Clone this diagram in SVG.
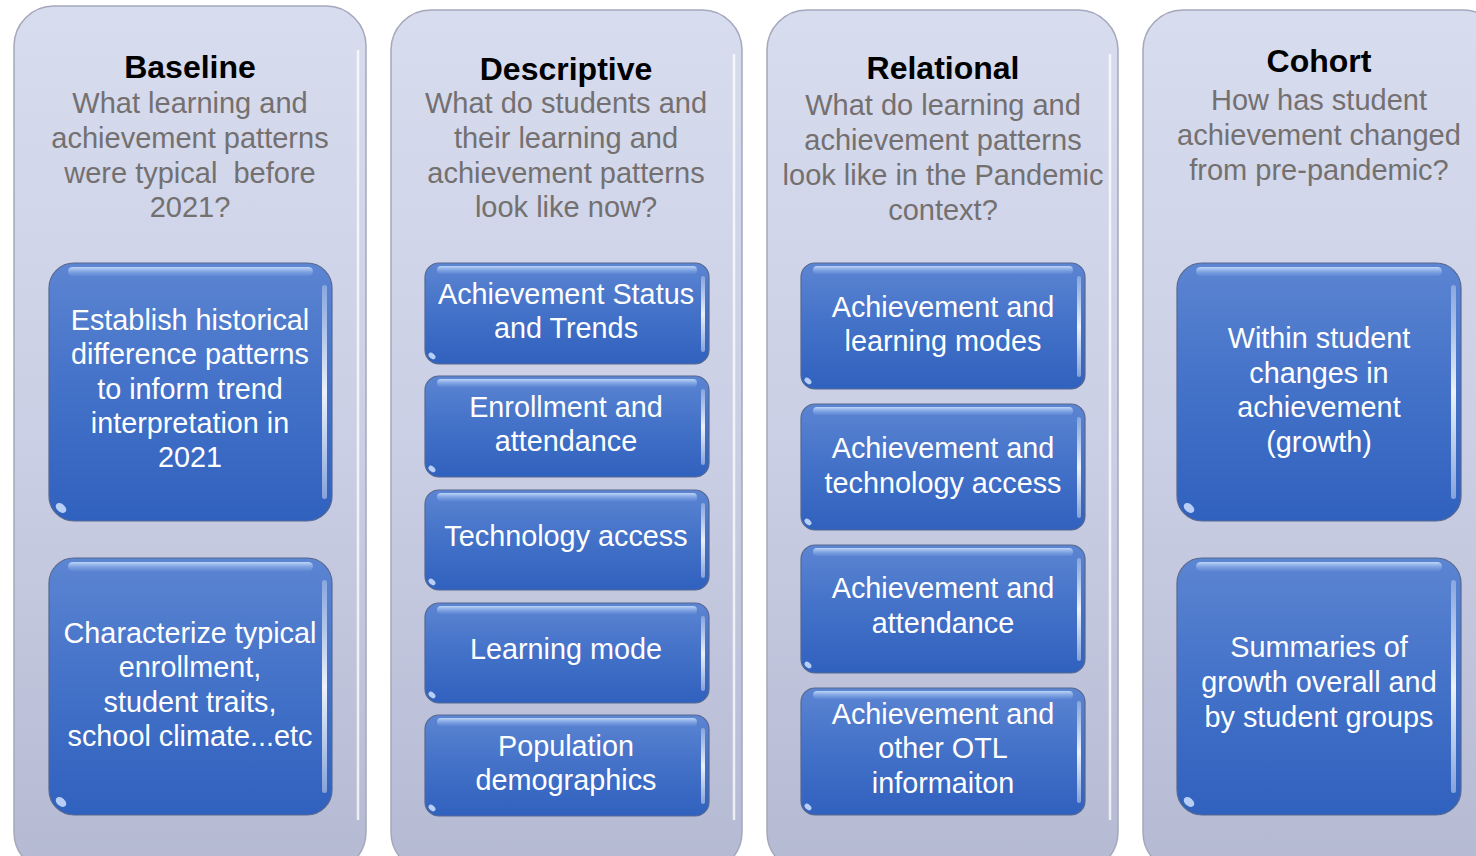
<svg xmlns="http://www.w3.org/2000/svg" width="1476" height="856" viewBox="0 0 1476 856">
<defs>
<linearGradient id="colg" x1="0" y1="0" x2="0" y2="1">
<stop offset="0" stop-color="#d7dcee"/>
<stop offset="0.5" stop-color="#cacfe5"/>
<stop offset="1" stop-color="#b5bad3"/>
</linearGradient>
<linearGradient id="boxg" x1="0" y1="0" x2="0" y2="1">
<stop offset="0" stop-color="#5c85d2"/>
<stop offset="0.45" stop-color="#4573c9"/>
<stop offset="1" stop-color="#3061be"/>
</linearGradient>
<linearGradient id="hl" x1="0" y1="0" x2="0" y2="1">
<stop offset="0" stop-color="#c4dafc" stop-opacity="0.95"/>
<stop offset="1" stop-color="#7fa6e6" stop-opacity="0.2"/>
</linearGradient>
<linearGradient id="rs" x1="0" y1="0" x2="0" y2="1">
<stop offset="0" stop-color="#ffffff" stop-opacity="0.3"/>
<stop offset="0.5" stop-color="#ffffff" stop-opacity="0.9"/>
<stop offset="1" stop-color="#ffffff" stop-opacity="0.4"/>
</linearGradient>
</defs>
<style>
.col{fill:url(#colg);stroke:#a4a8ba;stroke-width:1.5}
.colhl{fill:none;stroke:#ffffff;stroke-opacity:0.75;stroke-width:2.5}
.box{fill:url(#boxg);stroke:#56688f;stroke-width:1.2}
.hl{fill:url(#hl)}
.rs{fill:url(#rs)}
.spot{fill:#cfe2ff;opacity:0.85}
.title{font-family:"Liberation Sans",Arial,sans-serif;font-weight:bold;font-size:32px;fill:#000000;text-anchor:middle}
.sub{font-family:"Liberation Sans",Arial,sans-serif;font-size:29px;fill:#747070;text-anchor:middle;white-space:pre}
.bt{font-family:"Liberation Sans",Arial,sans-serif;font-size:28.8px;fill:#ffffff;text-anchor:middle}
</style>
<rect width="1476" height="856" fill="#ffffff"/>

<g id="col-baseline">
<rect class="col" x="14" y="6" width="352" height="866" rx="40"/>
<path class="colhl" d="M358 50 V820"/>
<text class="title" x="190" y="78">Baseline</text>
<text class="sub" x="190" y="113">What learning and</text>
<text class="sub" x="190" y="148">achievement patterns</text>
<text class="sub" x="190" y="183" xml:space="preserve">were typical  before</text>
<text class="sub" x="190" y="217">2021?</text>
</g>

<g id="col-descriptive">
<rect class="col" x="391" y="10" width="351" height="862" rx="40"/>
<path class="colhl" d="M734 54 V820"/>
<text class="title" x="566" y="80">Descriptive</text>
<text class="sub" x="566" y="113">What do students and</text>
<text class="sub" x="566" y="148">their learning and</text>
<text class="sub" x="566" y="183">achievement patterns</text>
<text class="sub" x="566" y="217">look like now?</text>
</g>

<g id="col-relational">
<rect class="col" x="767" y="10" width="351" height="862" rx="40"/>
<path class="colhl" d="M1110 54 V820"/>
<text class="title" x="943" y="79">Relational</text>
<text class="sub" x="943" y="115">What do learning and</text>
<text class="sub" x="943" y="150">achievement patterns</text>
<text class="sub" x="943" y="185">look like in the Pandemic</text>
<text class="sub" x="943" y="220">context?</text>
</g>

<g id="col-cohort">
<rect class="col" x="1143" y="10" width="360" height="862" rx="40"/>
<text class="title" x="1319" y="72">Cohort</text>
<text class="sub" x="1319" y="110">How has student</text>
<text class="sub" x="1319" y="145">achievement changed</text>
<text class="sub" x="1319" y="180">from pre-pandemic?</text>
</g>

<g id="node-b1">
<rect class="box" x="49" y="263" width="283" height="258" rx="25"/>
<rect class="hl" x="68" y="267" width="245" height="9" rx="4.5"/>
<rect class="rs" x="322" y="285" width="5" height="214" rx="2.5"/>
<ellipse class="spot" cx="61" cy="508" rx="6" ry="4" transform="rotate(40 61 508)"/>
<text class="bt" x="190" y="330">Establish historical</text>
<text class="bt" x="190" y="364">difference patterns</text>
<text class="bt" x="190" y="399">to inform trend</text>
<text class="bt" x="190" y="433">interpretation in</text>
<text class="bt" x="190" y="467">2021</text>
</g>

<g id="node-b2">
<rect class="box" x="49" y="558" width="283" height="257" rx="25"/>
<rect class="hl" x="68" y="562" width="245" height="9" rx="4.5"/>
<rect class="rs" x="322" y="580" width="5" height="213" rx="2.5"/>
<ellipse class="spot" cx="61" cy="802" rx="6" ry="4" transform="rotate(40 61 802)"/>
<text class="bt" x="190" y="643">Characterize typical</text>
<text class="bt" x="190" y="677">enrollment,</text>
<text class="bt" x="190" y="712">student traits,</text>
<text class="bt" x="190" y="746">school climate...etc</text>
</g>

<g id="node-d1">
<rect class="box" x="425" y="263" width="284" height="101" rx="14"/>
<rect class="hl" x="437" y="266" width="260" height="8" rx="4"/>
<rect class="rs" x="701" y="276" width="4" height="76" rx="2"/>
<ellipse class="spot" cx="432" cy="356" rx="4" ry="2.5" transform="rotate(40 432 356)"/>
<text class="bt" x="566" y="304">Achievement Status</text>
<text class="bt" x="566" y="338">and Trends</text>
</g>

<g id="node-d2">
<rect class="box" x="425" y="376" width="284" height="101" rx="14"/>
<rect class="hl" x="437" y="379" width="260" height="8" rx="4"/>
<rect class="rs" x="701" y="389" width="4" height="76" rx="2"/>
<ellipse class="spot" cx="432" cy="469" rx="4" ry="2.5" transform="rotate(40 432 469)"/>
<text class="bt" x="566" y="417">Enrollment and</text>
<text class="bt" x="566" y="451">attendance</text>
</g>

<g id="node-d3">
<rect class="box" x="425" y="490" width="284" height="100" rx="14"/>
<rect class="hl" x="437" y="493" width="260" height="8" rx="4"/>
<rect class="rs" x="701" y="503" width="4" height="75" rx="2"/>
<ellipse class="spot" cx="432" cy="582" rx="4" ry="2.5" transform="rotate(40 432 582)"/>
<text class="bt" x="566" y="546">Technology access</text>
</g>

<g id="node-d4">
<rect class="box" x="425" y="603" width="284" height="100" rx="14"/>
<rect class="hl" x="437" y="606" width="260" height="8" rx="4"/>
<rect class="rs" x="701" y="616" width="4" height="75" rx="2"/>
<ellipse class="spot" cx="432" cy="695" rx="4" ry="2.5" transform="rotate(40 432 695)"/>
<text class="bt" x="566" y="659">Learning mode</text>
</g>

<g id="node-d5">
<rect class="box" x="425" y="715" width="284" height="101" rx="14"/>
<rect class="hl" x="437" y="718" width="260" height="8" rx="4"/>
<rect class="rs" x="701" y="728" width="4" height="76" rx="2"/>
<ellipse class="spot" cx="432" cy="808" rx="4" ry="2.5" transform="rotate(40 432 808)"/>
<text class="bt" x="566" y="756">Population</text>
<text class="bt" x="566" y="790">demographics</text>
</g>

<g id="node-r1">
<rect class="box" x="801" y="263" width="284" height="126" rx="14"/>
<rect class="hl" x="813" y="266" width="260" height="8" rx="4"/>
<rect class="rs" x="1077" y="276" width="4" height="101" rx="2"/>
<ellipse class="spot" cx="808" cy="381" rx="4" ry="2.5" transform="rotate(40 808 381)"/>
<text class="bt" x="943" y="317">Achievement and</text>
<text class="bt" x="943" y="351">learning modes</text>
</g>

<g id="node-r2">
<rect class="box" x="801" y="404" width="284" height="126" rx="14"/>
<rect class="hl" x="813" y="407" width="260" height="8" rx="4"/>
<rect class="rs" x="1077" y="417" width="4" height="101" rx="2"/>
<ellipse class="spot" cx="808" cy="522" rx="4" ry="2.5" transform="rotate(40 808 522)"/>
<text class="bt" x="943" y="458">Achievement and</text>
<text class="bt" x="943" y="493">technology access</text>
</g>

<g id="node-r3">
<rect class="box" x="801" y="545" width="284" height="128" rx="14"/>
<rect class="hl" x="813" y="548" width="260" height="8" rx="4"/>
<rect class="rs" x="1077" y="558" width="4" height="103" rx="2"/>
<ellipse class="spot" cx="808" cy="665" rx="4" ry="2.5" transform="rotate(40 808 665)"/>
<text class="bt" x="943" y="598">Achievement and</text>
<text class="bt" x="943" y="633">attendance</text>
</g>

<g id="node-r4">
<rect class="box" x="801" y="688" width="284" height="127" rx="14"/>
<rect class="hl" x="813" y="691" width="260" height="8" rx="4"/>
<rect class="rs" x="1077" y="701" width="4" height="102" rx="2"/>
<ellipse class="spot" cx="808" cy="807" rx="4" ry="2.5" transform="rotate(40 808 807)"/>
<text class="bt" x="943" y="724">Achievement and</text>
<text class="bt" x="943" y="758">other OTL</text>
<text class="bt" x="943" y="793">informaiton</text>
</g>

<g id="node-c1">
<rect class="box" x="1177" y="263" width="284" height="258" rx="25"/>
<rect class="hl" x="1196" y="267" width="246" height="9" rx="4.5"/>
<rect class="rs" x="1451" y="285" width="5" height="214" rx="2.5"/>
<ellipse class="spot" cx="1189" cy="508" rx="6" ry="4" transform="rotate(40 1189 508)"/>
<text class="bt" x="1319" y="348">Within student</text>
<text class="bt" x="1319" y="383">changes in</text>
<text class="bt" x="1319" y="417">achievement</text>
<text class="bt" x="1319" y="452">(growth)</text>
</g>

<g id="node-c2">
<rect class="box" x="1177" y="558" width="284" height="257" rx="25"/>
<rect class="hl" x="1196" y="562" width="246" height="9" rx="4.5"/>
<rect class="rs" x="1451" y="580" width="5" height="213" rx="2.5"/>
<ellipse class="spot" cx="1189" cy="802" rx="6" ry="4" transform="rotate(40 1189 802)"/>
<text class="bt" x="1319" y="657">Summaries of</text>
<text class="bt" x="1319" y="692">growth overall and</text>
<text class="bt" x="1319" y="727">by student groups</text>
</g>

<g id="connectors"></g>
</svg>
